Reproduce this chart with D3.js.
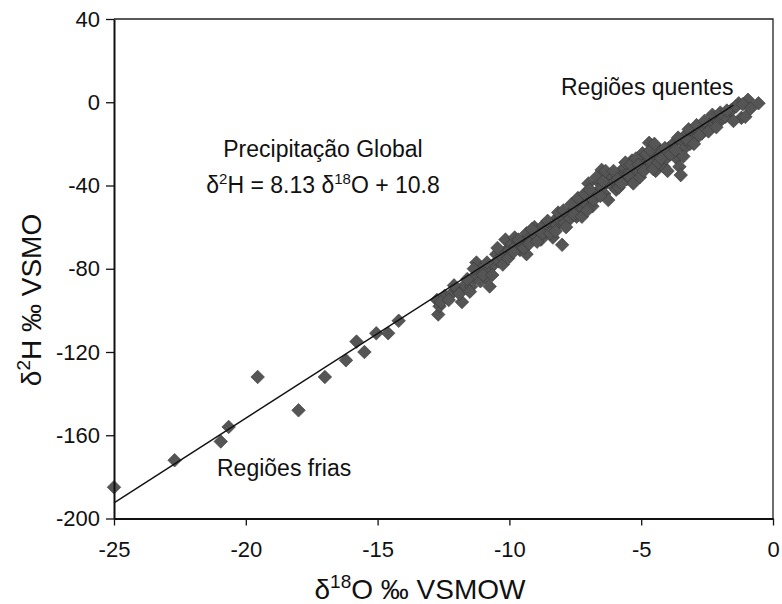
<!DOCTYPE html>
<html>
<head>
<meta charset="utf-8">
<script src="https://cdn.jsdelivr.net/npm/d3@7/dist/d3.min.js"></script>
<style>
  body { margin: 0; background: #fff; }
  svg text { font-family: "Liberation Sans", Arial, sans-serif; fill: #111; }
</style>
</head>
<body>
<svg id="chart" width="782" height="604"></svg>
<script>

// delta 18O (x) and delta 2H (y)
var o18 = [
  -25, -22.7, -20.95, -20.65, -19.55, -18.0, -17.0, -16.2, -15.8, -15.5, -15.05, -14.6, -14.2,
  -12.75, -12.7, -12.65, -12.45, -12.2, -12.0, -11.8, -11.7, -11.45, -11.3, -11.25, -11.1, -11.1,
  -10.9, -10.75, -10.75, -10.6, -10.5, -10.4, -10.3, -10.15, -10.1, -10.0, -9.9, -9.75, -9.6,
  -9.5, -9.35, -9.35, -9.2, -9.05, -9.0, -8.9, -8.8, -8.7, -8.6, -8.5, -8.35, -8.3, -8.2, -8.1,
  -8.0, -8.0, -7.9, -7.8, -7.7, -7.6, -7.5, -7.45, -7.35, -7.3, -7.2, -7.1, -7.0, -7.0, -6.9,
  -6.85, -6.75, -6.65, -6.6, -6.5, -6.5, -6.4, -6.3, -6.25, -6.2, -6.15, -6.1, -6.0, -5.95,
  -5.85, -5.8, -5.7, -5.65, -5.55, -5.45, -5.35, -5.3, -5.25, -5.15, -5.05, -5.0, -4.95, -4.85,
  -4.7, -4.7, -4.6, -4.45, -4.4, -4.3, -4.15, -4.05, -3.95, -3.8, -3.75, -3.65, -3.55, -3.5,
  -3.45, -3.35, -3.3, -3.3, -3.15, -3.05, -2.95, -2.85, -2.7, -2.65, -2.5, -2.35, -2.2, -2.05,
  -1.9, -1.8, -1.6, -1.55, -1.3, -1.2, -1.05, -0.95, -0.55,
  -12.6, -12.3, -12.1, -11.9, -11.6, -11.5, -11.35, -11.0, -10.85, -10.65, -10.45, -10.25,
  -10.05, -9.85, -9.8, -9.65, -9.45, -9.25, -9.15, -8.95, -8.75, -8.55, -8.45, -8.25, -8.15,
  -7.95, -7.85, -7.65, -7.55, -7.4, -7.25, -7.15, -7.05, -6.95, -6.8, -6.7, -6.55, -6.45,
  -6.35, -6.05, -5.9, -5.75, -5.6, -5.5, -5.4, -5.2, -5.1, -4.9, -4.8, -4.65, -4.55, -4.5,
  -4.35, -4.25, -4.1, -4.0, -3.9, -3.7, -3.6, -3.4, -3.25, -3.2, -3.0, -2.9, -2.8, -2.6,
  -2.45, -2.3, -2.15, -2.0, -1.75, -1.5, -1.4, -1.15, -0.85
];
var h2 = [
  -185, -172, -163, -156, -132, -148, -132, -124, -115, -120, -111, -111, -105,
  -95, -102, -98, -93, -92, -90, -96, -88, -88.5, -84, -77, -80.5, -86,
  -84, -88.5, -80, -78, -73, -76.5, -74, -66, -71, -71, -68, -69, -71,
  -67, -73, -63, -65, -60, -64, -62, -66, -59, -62, -60, -65, -57, -59, -56.5,
  -68.5, -55, -58, -54, -56, -52, -50, -55, -53, -48, -51, -49, -39, -45, -46,
  -50, -44, -43, -38.5, -32.5, -41, -44, -37, -47, -36, -35, -40, -38, -42,
  -41, -34, -36, -31.5, -37, -33, -28, -39, -31, -34, -36, -29, -24.5, -31,
  -19.5, -27, -29, -33, -26, -23, -31, -27, -22, -24.5, -19.5, -27, -31, -35,
  -19, -22, -16.5, -15.5, -20, -14, -17, -13, -15, -13.5, -11, -11.5, -8, -9.5,
  -7.5, -7, -4, -3.5, -0.5, -7.5, -7, 1.2, -0.5,
  -96, -95, -88, -92, -85, -91, -80, -83, -77, -83, -70, -78,
  -75, -72, -65, -66, -70, -68, -61, -67, -63, -57, -63, -62, -53,
  -52, -60, -49, -54, -46, -55, -44, -52, -42, -47, -36, -45, -38,
  -33, -33, -37, -39, -29, -35, -30, -27, -30, -33, -25, -23, -32, -20,
  -29, -27, -22, -33, -25, -23, -17, -26, -18, -13, -20, -11, -16, -9,
  -14, -6, -12, -5, -4, -9, -2, -1, -3
];

var xTicks = [-25, -20, -15, -10, -5, 0];
var yTicks = [40, 0, -40, -80, -120, -160, -200];

// global meteoric water line  d2H = 8.13 d18O + 10.8
var lineSlope = 8.13, lineIntercept = 10.8;
var lineFrom = [-25, -1.5];

var chart = d3.select("#chart");

var plotLeft = 114, plotRight = 773, plotTop = 19, plotBottom = 518.5;

// define x scale
var x = d3.scaleLinear().domain([-25, 0]).range([plotLeft, plotRight]);

// define y scale
var y = d3.scaleLinear().domain([-200, 40]).range([plotBottom, plotTop]);

var points = o18.map(function(v, i){
  return {x: v, y: h2[i]};
});

// diamonds
chart.append("g")
  .selectAll("path")
  .data(points)
  .enter().append("path")
  .attr("d", d3.symbol().type(d3.symbolSquare).size(92))
  .attr("transform", function(d){
    return "translate(" + x(d.x) + "," + y(d.y) + ") rotate(45)";
  })
  .attr("fill", "#555")
  .attr("stroke", "#3a3a3a")
  .attr("stroke-width", 0.6);

// regression line
chart.append("line")
  .attr("x1", x(lineFrom[0]))
  .attr("y1", y(lineSlope * lineFrom[0] + lineIntercept))
  .attr("x2", x(lineFrom[1]))
  .attr("y2", y(lineSlope * lineFrom[1] + lineIntercept))
  .attr("stroke", "#111")
  .attr("stroke-width", 1.4);

// frame top and right
chart.append("path")
  .attr("d", "M" + plotLeft + "," + plotTop + "H" + plotRight + "V" + plotBottom)
  .attr("fill", "none")
  .attr("stroke", "#222")
  .attr("stroke-width", 1.3);

// plain hyphen minus like the original
var plain = function(d){ return String(d); };

// y axis
var yAxis = d3.axisLeft(y).tickValues(yTicks).tickFormat(plain)
  .tickSize(8).tickSizeOuter(0).tickPadding(6);
var gy = chart.append("g")
  .attr("transform", "translate(" + plotLeft + ",0)")
  .call(yAxis);

// x axis
var xAxis = d3.axisBottom(x).tickValues(xTicks).tickFormat(plain)
  .tickSize(7).tickSizeOuter(0).tickPadding(16);
var gx = chart.append("g")
  .attr("transform", "translate(0," + plotBottom + ")")
  .call(xAxis);

[gx, gy].forEach(function(g){
  g.select(".domain").attr("stroke", "#111").attr("stroke-width", 2);
  g.selectAll(".tick line").attr("stroke", "#111").attr("stroke-width", 1.3);
  g.selectAll(".tick text")
    .attr("font-size", 22)
    .attr("font-family", "Liberation Sans, Arial, sans-serif")
    .attr("fill", "#111");
});

// annotations
chart.append("text")
  .attr("x", 561).attr("y", 95)
  .attr("font-size", 23)
  .text("Regiões quentes");

chart.append("text")
  .attr("x", 217).attr("y", 476)
  .attr("font-size", 23)
  .text("Regiões frias");

chart.append("text")
  .attr("x", 323).attr("y", 157)
  .attr("text-anchor", "middle")
  .attr("font-size", 23)
  .text("Precipitação Global");

var eq = chart.append("text")
  .attr("x", 323).attr("y", 193)
  .attr("text-anchor", "middle")
  .attr("font-size", 23);
eq.append("tspan").text("δ");
eq.append("tspan").attr("dy", -9).attr("font-size", 15).text("2");
eq.append("tspan").attr("dy", 9).text("H = 8.13 δ");
eq.append("tspan").attr("dy", -9).attr("font-size", 15).text("18");
eq.append("tspan").attr("dy", 9).text("O + 10.8");

// axis titles
var xt = chart.append("text")
  .attr("x", 420).attr("y", 599)
  .attr("text-anchor", "middle")
  .attr("font-size", 28);
xt.append("tspan").text("δ");
xt.append("tspan").attr("dy", -11).attr("font-size", 19).text("18");
xt.append("tspan").attr("dy", 11).text("O ‰ VSMOW");

var yt = chart.append("text")
  .attr("transform", "translate(41,300) rotate(-90)")
  .attr("text-anchor", "middle")
  .attr("font-size", 28);
yt.append("tspan").text("δ");
yt.append("tspan").attr("dy", -11).attr("font-size", 19).text("2");
yt.append("tspan").attr("dy", 11).text("H ‰ VSMO");

</script>
</body>
</html>
